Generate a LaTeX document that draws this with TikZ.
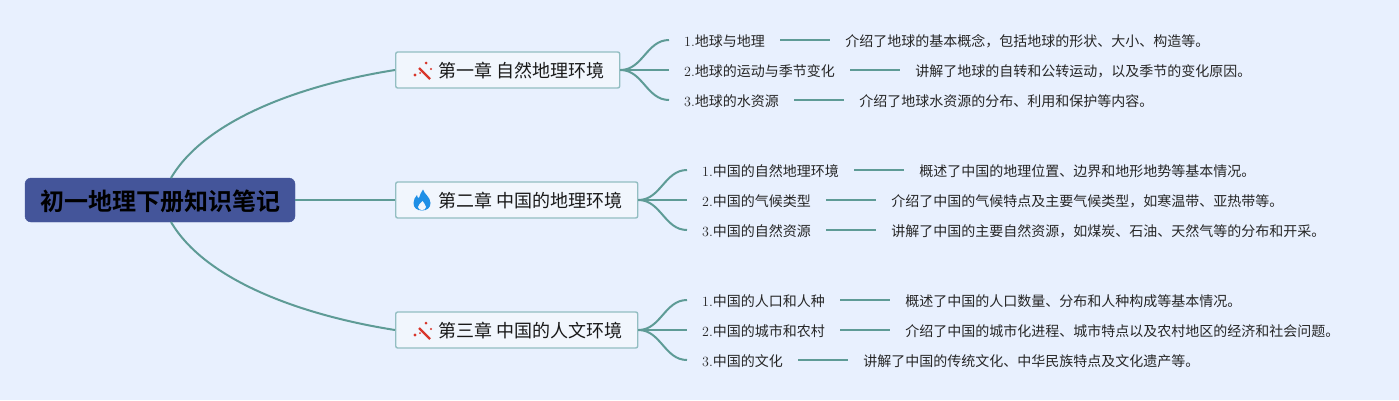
\documentclass[tikz,border=0pt]{standalone}
\usepackage{fontspec}
\usepackage{xcolor}
\usepackage{tikz}
\usetikzlibrary{positioning}
\newfontfamily\cjk[BoldFont={Noto Sans CJK SC Bold}]{Noto Sans CJK SC}
\definecolor{bgmap}{HTML}{E8F0FE}
\definecolor{rootfill}{HTML}{44559A}
\definecolor{linkcol}{HTML}{5E9B96}
\definecolor{boxline}{HTML}{93BEC2}
\definecolor{boxfill}{HTML}{F1F6FD}
\definecolor{wandred}{HTML}{D8352A}
\definecolor{flameblue}{HTML}{1E8FE6}
\tikzset{
	rootnode/.style={draw=rootfill,fill=rootfill,rounded corners=6pt,minimum width=270pt,minimum height=44pt,inner sep=0pt,text height=22pt,text depth=2pt,font=\cjk\bfseries\fontsize{24}{24}\selectfont,text=black},
	chapter/.style={draw=boxline,line width=1.4pt,fill=boxfill,rounded corners=2pt,anchor=west,minimum height=36pt,inner xsep=15pt,inner ysep=0pt,text height=15pt,text depth=1pt,font=\cjk\fontsize{18}{18}\selectfont,text=black!90},
	leaf/.style={anchor=west,inner xsep=15pt,inner ysep=0pt,text height=13pt,text depth=1pt,font=\cjk\fontsize{14}{14}\selectfont,text=black!85},
	link/.style={draw=linkcol,line width=2pt},
	wandicon/.pic={
		\draw[wandred,line width=2.2pt] (-3,-2) -- (8,9);
		\fill[wandred] (4,-7) circle (1.5pt) (-7,5) circle (1.6pt) (9,-1) circle (1.2pt) (-2,3) circle (1pt);
	},
	flameicon/.pic={
		\fill[flameblue] (1,-10.5) .. controls (2,-6) and (8.5,-3) .. (8.5,3) .. controls (8.5,8) and (5,10.5) .. (0,10.5) .. controls (-5,10.5) and (-8.5,8) .. (-8.5,3) .. controls (-8.5,0) and (-7,-3) .. (-5,-5) .. controls (-5,-3) and (-4,-2) .. (-3,-2) .. controls (-2,-5) and (-1,-8) .. (1,-10.5) -- cycle;
		\fill[boxfill] (0.5,1) .. controls (1,3) and (4,4) .. (4,7) .. controls (4,9) and (2,10) .. (0,10) .. controls (-2,10) and (-4,9) .. (-4,7) .. controls (-4,4) and (-1,3.5) .. (0.5,1) -- cycle;
	}
}
\begin{document}
\begin{tikzpicture}[x=1pt,y=-1pt]
	\fill[bgmap] (0,0) rectangle (1399,400);
	\useasboundingbox (0,0) rectangle (1399,400);

	\node[rootnode] (root) at (160,200) {初一地理下册知识笔记};
	\coordinate (rootup) at (171,178);
	\coordinate (rootdown) at (171,222);

	\node[chapter] (ch1) at (395,70) {\hspace*{28pt}第一章 自然地理环境};
	\node[chapter] (ch2) at (395,200) {\hspace*{28pt}第二章 中国的地理环境};
	\node[chapter] (ch3) at (395,330) {\hspace*{28pt}第三章 中国的人文环境};
	\pic at (422,70) {wandicon};
	\pic at (422,200) {flameicon};
	\pic at (422,330) {wandicon};

	\draw[link] (rootup) .. controls (205,120) and (300,85) .. (ch1.west);
	\draw[link] (root.east) -- (ch2.west);
	\draw[link] (rootdown) .. controls (205,280) and (300,315) .. (ch3.west);

	% chapter one
	\node[leaf] (a1) at (669,40) {{\rmfamily 1.}地球与地理};
	\node[leaf] (a2) at (669,70) {{\rmfamily 2.}地球的运动与季节变化};
	\node[leaf] (a3) at (669,100) {{\rmfamily 3.}地球的水资源};
	\node[leaf,right=50pt of a1] (na1) {介绍了地球的基本概念，包括地球的形状、大小、构造等。};
	\node[leaf,right=50pt of a2] (na2) {讲解了地球的自转和公转运动，以及季节的变化原因。};
	\node[leaf,right=50pt of a3] (na3) {介绍了地球水资源的分布、利用和保护等内容。};

	% chapter two
	\node[leaf] (b1) at (687,170) {{\rmfamily 1.}中国的自然地理环境};
	\node[leaf] (b2) at (687,200) {{\rmfamily 2.}中国的气候类型};
	\node[leaf] (b3) at (687,230) {{\rmfamily 3.}中国的自然资源};
	\node[leaf,right=50pt of b1] (nb1) {概述了中国的地理位置、边界和地形地势等基本情况。};
	\node[leaf,right=50pt of b2] (nb2) {介绍了中国的气候特点及主要气候类型，如寒温带、亚热带等。};
	\node[leaf,right=50pt of b3] (nb3) {讲解了中国的主要自然资源，如煤炭、石油、天然气等的分布和开采。};

	% chapter three
	\node[leaf] (c1) at (687,300) {{\rmfamily 1.}中国的人口和人种};
	\node[leaf] (c2) at (687,330) {{\rmfamily 2.}中国的城市和农村};
	\node[leaf] (c3) at (687,360) {{\rmfamily 3.}中国的文化};
	\node[leaf,right=50pt of c1] (nc1) {概述了中国的人口数量、分布和人种构成等基本情况。};
	\node[leaf,right=50pt of c2] (nc2) {介绍了中国的城市化进程、城市特点以及农村地区的经济和社会问题。};
	\node[leaf,right=50pt of c3] (nc3) {讲解了中国的传统文化、中华民族特点及文化遗产等。};

	\foreach \ch/\sub in {ch1/a,ch2/b,ch3/c}{
		\draw[link] (\ch.east) to[out=0,in=180] (\sub1.west);
		\draw[link] (\ch.east) -- (\sub2.west);
		\draw[link] (\ch.east) to[out=0,in=180] (\sub3.west);
		\draw[link] (\sub1.east) -- (n\sub1.west);
		\draw[link] (\sub2.east) -- (n\sub2.west);
		\draw[link] (\sub3.east) -- (n\sub3.west);
	}
\end{tikzpicture}
\end{document}
